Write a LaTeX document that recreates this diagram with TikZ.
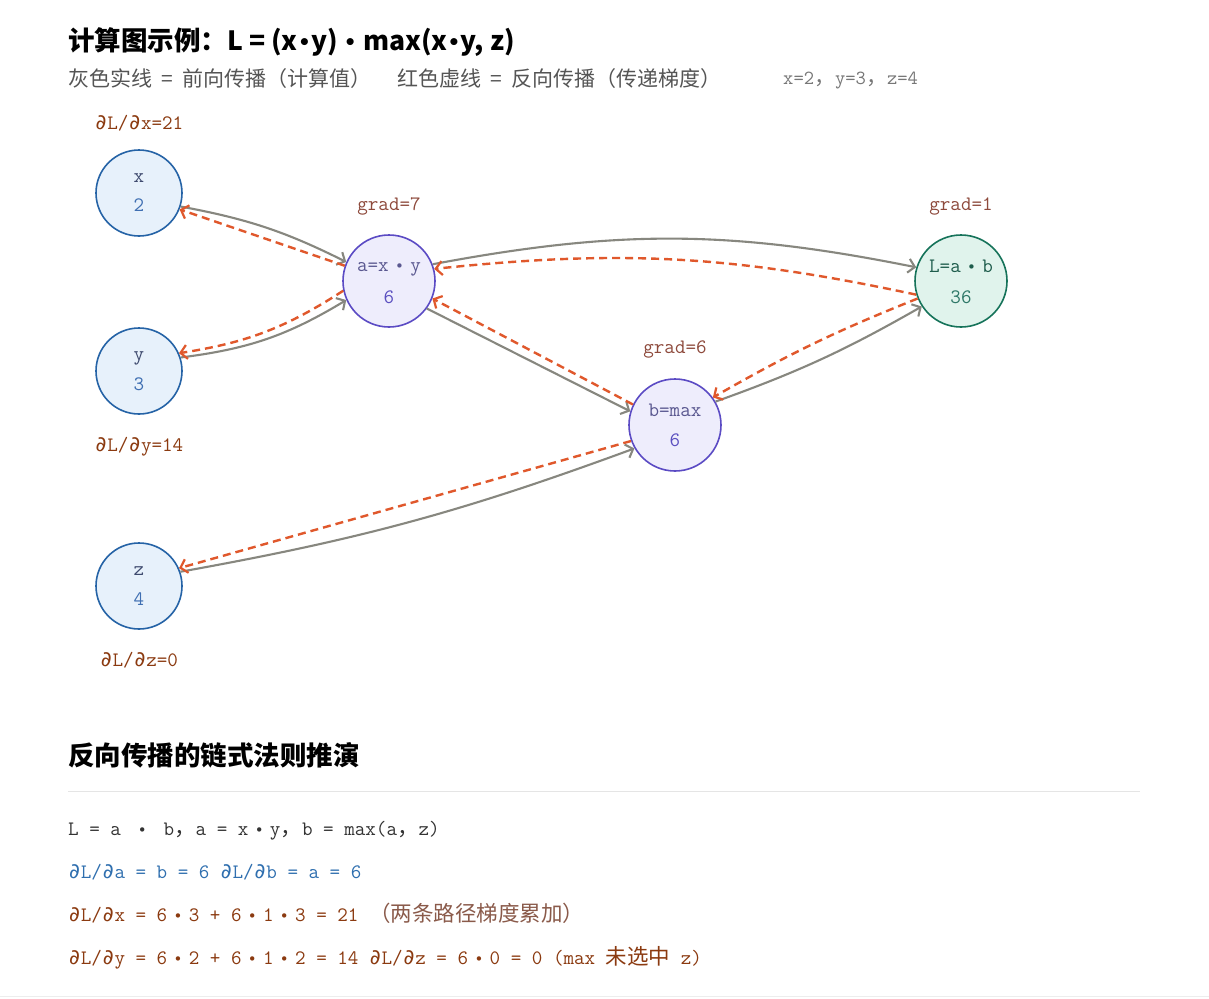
\documentclass[tikz,border=0pt]{standalone}
\usepackage{fontspec}
\usetikzlibrary{arrows.meta}
\newfontfamily\cjk{Noto Sans CJK SC}
\newfontfamily\djv{DejaVu Sans}
\newcommand\mf{\ttfamily\fontsize{20.5}{24}\selectfont}
\newcommand\cj{\cjk\fontsize{21.5}{24}\selectfont}
\newcommand\pd{\makebox[12.6pt]{\djv\fontsize{21}{21}\selectfont ∂}}
\newcommand\bul{\makebox[1.05em]{\djv\fontsize{15}{15}\selectfont •}}
\newcommand\tb{\raisebox{1.5pt}{\makebox[0.5em]{\djv\bfseries\fontsize{20}{20}\selectfont •}}}
\newcommand\wsp{\hspace{0.45em}}
\definecolor{inb}{HTML}{2563A6}
\definecolor{inf}{HTML}{E7F1FB}
\definecolor{opb}{HTML}{5B4BC4}
\definecolor{opf}{HTML}{EEEDFC}
\definecolor{outb}{HTML}{16735A}
\definecolor{outf}{HTML}{E0F3EC}
\definecolor{fwdc}{HTML}{87877F}
\definecolor{bwdc}{HTML}{E0582C}
\definecolor{gradc}{HTML}{8E4A3C}
\definecolor{dlc}{HTML}{8B3A10}
\definecolor{inlab}{HTML}{3E4A6E}
\definecolor{inval}{HTML}{3F6FB2}
\definecolor{oplab}{HTML}{5A5890}
\definecolor{opval}{HTML}{5B50C0}
\definecolor{outlab}{HTML}{1E5C4C}
\definecolor{outval}{HTML}{2E7868}
\definecolor{subc}{HTML}{555555}
\definecolor{valc}{HTML}{777777}
\definecolor{l1c}{HTML}{333333}
\definecolor{l2c}{HTML}{2F6FAF}
\definecolor{notec}{HTML}{8A5A4A}
\begin{document}
\begin{tikzpicture}[x=1pt,y=-1pt,
  every node/.style={inner sep=0pt},
  inp/.style={circle,draw=inb,fill=inf,line width=1.6pt,minimum size=86pt},
  opn/.style={circle,draw=opb,fill=opf,line width=1.6pt,minimum size=92pt},
  outn/.style={circle,draw=outb,fill=outf,line width=1.6pt,minimum size=92pt},
  fwd/.style={draw=fwdc,line width=2.1pt,-{Straight Barb[length=6.5pt,width=14pt,line width=2.1pt]}},
  bwd/.style={draw=bwdc,line width=2.4pt,dash pattern=on 8pt off 5pt,-{Straight Barb[length=6.5pt,width=14pt,line width=2.2pt]}},
  txt/.style={anchor=base,font=\mf},
  lft/.style={anchor=base west},
  gradl/.style={txt,text=gradc},
  dl/.style={txt,text=dlc}]
\useasboundingbox[fill=white] (0,0) rectangle (1209,998);
% titles
\node[lft] (title) at (68,51) {\cjk\bfseries\fontsize{26.5}{30}\selectfont 计算图示例：L = (x\tb y) \tb{} max(x\tb y, z)};
\node[lft,text=subc] (sub1) at (68,86) {\cjk\fontsize{21}{24}\selectfont 灰色实线\wsp=\wsp 前向传播（计算值）};
\node[lft,text=subc] (sub2) at (397,86) {\cjk\fontsize{21}{24}\selectfont 红色虚线\wsp=\wsp 反向传播（传递梯度）};
\node[lft,text=valc] (vals) at (783,84) {\ttfamily\fontsize{20}{22}\selectfont x=2{\cjk\fontsize{21}{22}\selectfont ，}y=3{\cjk\fontsize{21}{22}\selectfont ，}z=4};
% nodes
\node[inp] (x) at (139,193) {};
\node[inp] (y) at (139,371) {};
\node[inp] (z) at (139,586) {};
\node[opn] (a) at (389,281) {};
\node[opn] (b) at (675,425) {};
\node[outn] (L) at (961,281) {};
\node[txt,text=inlab] (xl) at (139,182) {x};
\node[txt,text=inval] (xv) at (139,211) {2};
\node[txt,text=inlab] (yl) at (139,360) {y};
\node[txt,text=inval] (yv) at (139,390) {3};
\node[txt,text=inlab] (zl) at (139,575) {z};
\node[txt,text=inval] (zv) at (139,605) {4};
\node[txt,text=oplab] (al) at (389,271) {a=x\bul y};
\node[txt,text=opval] (av) at (389,303) {6};
\node[txt,text=oplab] (bl) at (675,416) {b=max};
\node[txt,text=opval] (bv) at (675,446) {6};
\node[txt,text=outlab] (Ll) at (961,272) {L=a\bul b};
\node[txt,text=outval] (Lv) at (961,303) {36};
% labels
\node[dl] (gx) at (139,129) {\pd L/\pd x=21};
\node[dl] (gy) at (139,451) {\pd L/\pd y=14};
\node[dl] (gz) at (139,666) {\pd L/\pd z=0};
\node[gradl] (ga) at (389,210) {grad=7};
\node[gradl] (gb) at (675,353) {grad=6};
\node[gradl] (gL) at (961,210) {grad=1};
% forward edges
\draw[fwd] (x.-18) to[bend left=8] (a.156);
\draw[fwd] (y.18) to[bend right=12] (a.204);
\draw[fwd] (a.-36) -- (b.163);
\draw[fwd] (a.21) to[bend left=11] (L.163);
\draw[fwd] (b.30) to[bend right=5] (L.213);
\draw[fwd] (z.19) to[bend right=5] (b.210);
% backward edges
\draw[bwd] (a.161) -- (x.-22);
\draw[bwd] (a.192) to[bend left=12] (y.24);
\draw[bwd] (b.154) -- (a.-22);
\draw[bwd] (L.197) to[bend right=9] (a.15);
\draw[bwd] (L.202) to[bend right=4] (b.36);
\draw[bwd] (b.200) -- (z.24);
% chain rule section
\node[lft] (h2) at (68,765) {\cjk\bfseries\fontsize{26.5}{30}\selectfont 反向传播的链式法则推演};
\draw[draw=black!10,line width=1pt] (68,791) -- (1140,791);
\node[lft,font=\mf,text=l1c] (r1) at (68,835) {L = a \bul{} b{\cj ，}a = x\bul y{\cj ，}b = max(a{\cj ，}z)};
\node[lft,font=\mf,text=l2c] (r2) at (68,878) {\pd L/\pd a = b = 6 \pd L/\pd b = a = 6};
\node[lft,font=\mf,text=dlc] (r3) at (68,921) {\pd L/\pd x = 6\bul 3 + 6\bul 1\bul 3 = 21 {\cj\color{notec}（两条路径梯度累加）}};
\node[lft,font=\mf,text=dlc] (r4) at (68,964) {\pd L/\pd y = 6\bul 2 + 6\bul 1\bul 2 = 14 \pd L/\pd z = 6\bul 0 = 0 (max {\cj 未选中} z)};
\draw[draw=black!7,line width=1.5pt] (0,996.5) -- (1209,996.5);
\end{tikzpicture}
\end{document}
